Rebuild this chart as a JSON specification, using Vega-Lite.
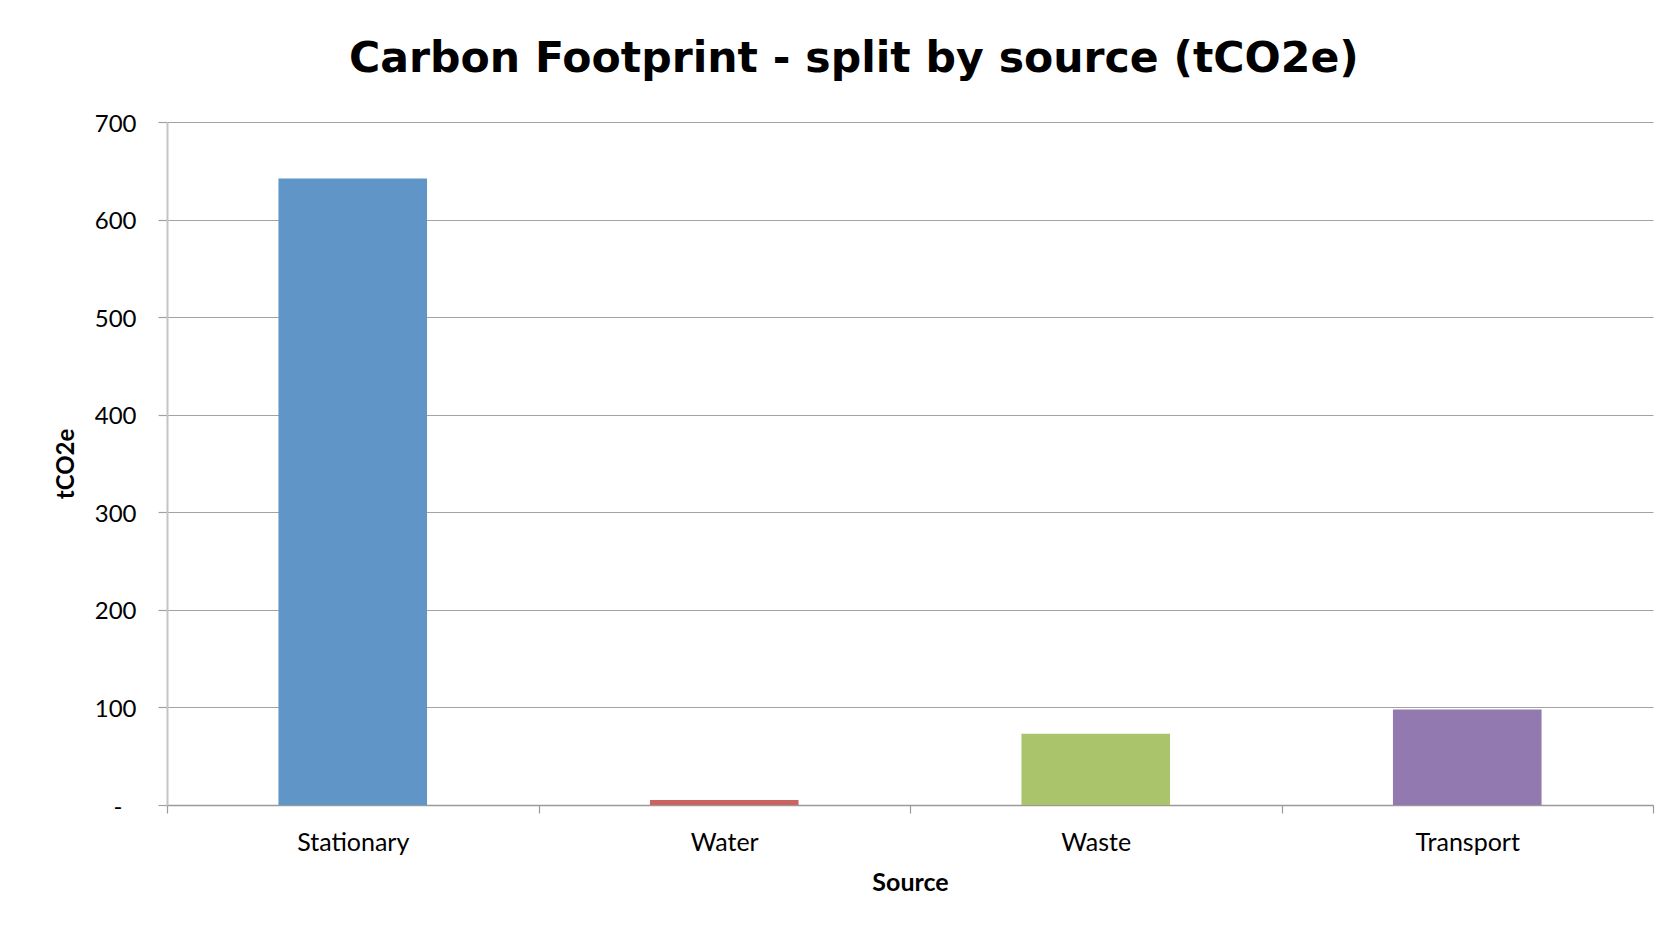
{
  "$schema": "https://vega.github.io/schema/vega-lite/v6.json",
  "autosize": {"type": "none"},
  "padding": {"left": 167, "top": 122, "right": 20, "bottom": 125},
  "width": 1486,
  "height": 683,
  "background": "#ffffff",
  "title": {
    "text": "Carbon Footprint - split by source (tCO2e)",
    "font": "DejaVu Sans",
    "fontSize": 42.6,
    "fontWeight": "bold",
    "color": "#000000",
    "anchor": "middle",
    "frame": "bounds",
    "baseline": "alphabetic",
    "offset": -3
  },
  "data": {
    "values": [
      {"source": "Stationary", "tco2e": 642},
      {"source": "Water", "tco2e": 5},
      {"source": "Waste", "tco2e": 73},
      {"source": "Transport", "tco2e": 98}
    ]
  },
  "mark": {"type": "bar", "width": {"band": 0.4}},
  "encoding": {
    "x": {
      "field": "source",
      "type": "nominal",
      "sort": ["Stationary", "Water", "Waste", "Transport"],
      "scale": {"paddingInner": 0, "paddingOuter": 0},
      "title": "Source",
      "axis": {
        "labelAngle": 0,
        "labelFont": "Lato",
        "labelFontSize": 25,
        "labelColor": "#000000",
        "labelPadding": 17,
        "titleFont": "Lato",
        "titleFontSize": 25,
        "titleFontWeight": "bold",
        "titleColor": "#000000",
        "titlePadding": 15,
        "tickBand": "extent",
        "ticks": true,
        "tickSize": 8,
        "tickColor": "#9A9A9A",
        "tickWidth": 1.2,
        "domainColor": "#9A9A9A",
        "domainWidth": 1.5,
        "grid": false
      }
    },
    "y": {
      "field": "tco2e",
      "type": "quantitative",
      "scale": {"domain": [0, 700], "nice": false},
      "title": "tCO2e",
      "axis": {
        "values": [0, 100, 200, 300, 400, 500, 600, 700],
        "labelExpr": "datum.value == 0 ? '-' : format(datum.value, 'd')",
        "labelFont": "Lato",
        "labelFontSize": 24,
        "labelColor": "#000000",
        "labelPadding": {"condition": {"test": "datum.value == 0", "value": 36}, "value": 22},
        "labelBaseline": "middle",
        "labelOffset": 2,
        "titleFont": "Lato",
        "titleFontSize": 24,
        "titleFontWeight": "bold",
        "titleColor": "#000000",
        "titlePadding": 16,
        "tickSize": 9,
        "tickColor": "#A0A0A0",
        "tickWidth": 1.2,
        "domainColor": "#C4C4C4",
        "domainWidth": 2,
        "grid": true,
        "gridColor": "#A3A3A3",
        "gridWidth": 1.2
      }
    },
    "color": {
      "field": "source",
      "type": "nominal",
      "scale": {
        "domain": ["Stationary", "Water", "Waste", "Transport"],
        "range": ["#6095C8", "#CB6460", "#AAC46C", "#9279B0"]
      },
      "legend": null
    }
  },
  "config": {
    "view": {"stroke": null}
  }
}
